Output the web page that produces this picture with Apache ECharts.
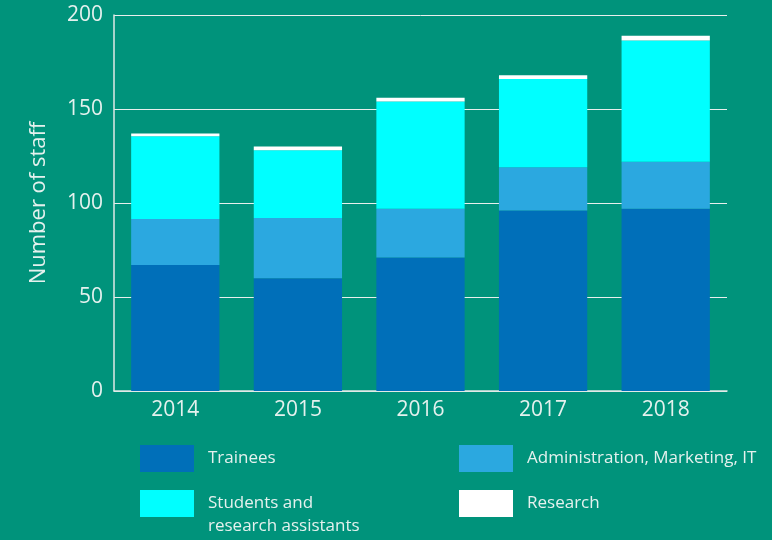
<!DOCTYPE html>
<html>
<head>
<meta charset="utf-8">
<script src="https://cdn.jsdelivr.net/npm/echarts@6/dist/echarts.min.js"></script>
<style>
  html, body { margin: 0; padding: 0; background: #00937b; }
  #main { width: 772px; height: 540px; }
</style>
</head>
<body>
<div id="main"></div>
<script>
// data
var years = ['2014', '2015', '2016', '2017', '2018'];
var trainees = [67, 60, 71, 96, 97];
var admin = [24.5, 32, 26, 23, 25];
var students = [44, 36, 57, 47, 64.5];
var research = [1.5, 2, 2, 2, 2.5];
var yTicks = [0, 50, 100, 150, 200];

var names = ['Trainees', 'Administration, Marketing, IT', 'Students and research assistants', 'Research'];
var colors = ['#006fb9', '#2ba8e0', '#00ffff', '#ffffff'];
var textColor = '#e4f1ee';
var font = 'Open Sans';

function bar(name, data, color) {
  return {
    name: name,
    type: 'bar',
    stack: 'staff',
    data: data,
    barCategoryGap: '28%',
    itemStyle: { color: color },
    emphasis: { disabled: true }
  };
}

function legend(name, left, top) {
  return {
    data: [name],
    left: left,
    top: top,
    icon: 'rect',
    itemWidth: 54,
    itemHeight: 27,
    itemGap: 0,
    padding: 0,
    selectedMode: false,
    formatter: function (n) {
      // blank first line keeps "Students and" level with the box
      return n == 'Students and research assistants' ? '\nStudents and\nresearch assistants' : n;
    },
    textStyle: { color: textColor, fontSize: 17, fontFamily: font, padding: [0, 0, 0, 9], lineHeight: 23 }
  };
}

var option = {
  backgroundColor: '#00937b',
  animation: false,
  color: colors,
  grid: { left: 114, right: 45, top: 15, bottom: 149 },
  legend: [
    legend(names[0], 140, 445),
    legend(names[1], 459, 445),
    legend(names[2], 140, 469),
    legend(names[3], 459, 490)
  ],
  xAxis: {
    type: 'category',
    data: years,
    axisLine: { lineStyle: { color: '#dfe9e6', width: 1.5 } },
    axisTick: { show: false },
    axisLabel: { color: textColor, fontSize: 21, fontFamily: font, margin: 9 }
  },
  yAxis: {
    type: 'value',
    min: yTicks[0],
    max: yTicks[yTicks.length - 1],
    interval: 50,
    name: 'Number of staff',
    nameLocation: 'middle',
    nameGap: 64,
    nameTextStyle: { color: textColor, fontSize: 22, fontFamily: font },
    axisLine: { show: true, lineStyle: { color: '#dfe9e6', width: 1.5 } },
    axisTick: { show: false },
    axisLabel: { color: textColor, fontSize: 21, fontFamily: font, margin: 11 },
    splitLine: { lineStyle: { color: '#e8efed', width: 1 } }
  },
  series: [
    bar(names[0], trainees, colors[0]),
    bar(names[1], admin, colors[1]),
    bar(names[2], students, colors[2]),
    bar(names[3], research, colors[3])
  ]
};

var myChart = echarts.init(document.getElementById('main'));
myChart.setOption(option);
</script>
</body>
</html>
